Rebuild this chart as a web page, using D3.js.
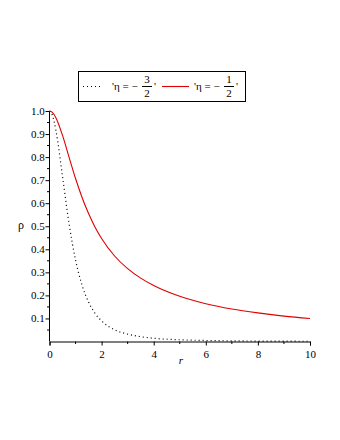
<!DOCTYPE html>
<html>
<head>
<meta charset="utf-8">
<script src="https://cdn.jsdelivr.net/npm/d3@7"></script>
<style>
  body { margin: 0; background: #fff; }
</style>
</head>
<body>
<svg width="340" height="440"></svg>
<script>
// values
var rVals = [0, 0.1, 0.25, 0.5, 0.75, 1, 1.25, 1.5, 1.75, 2, 2.5, 3, 3.5, 4, 5, 6, 7, 8, 9, 10];
var rhoHalf = [1, 0.995, 0.97, 0.894, 0.8, 0.707, 0.625, 0.555, 0.496, 0.447, 0.371, 0.316, 0.275, 0.243, 0.196, 0.164, 0.141, 0.124, 0.110, 0.0995];
var rhoThreeHalf = [1, 0.985, 0.914, 0.716, 0.512, 0.354, 0.244, 0.171, 0.122, 0.089, 0.051, 0.032, 0.021, 0.014, 0.0075, 0.0045, 0.0029, 0.0019, 0.0014, 0.001];
var xTicks = [0, 2, 4, 6, 8, 10];
var xMinor = [1, 3, 5, 7, 9];
var yTicks = [0.1, 0.2, 0.3, 0.4, 0.5, 0.6, 0.7, 0.8, 0.9, 1.0];
var yMinor = [0.05, 0.15, 0.25, 0.35, 0.45, 0.55, 0.65, 0.75, 0.85, 0.95];

var serif = "'Liberation Serif', 'Times New Roman', serif";
var svg = d3.select("svg");
var x = d3.scaleLinear().domain([0, 10]).range([49.5, 310]);
var y = d3.scaleLinear().domain([0, 1]).range([341.5, 111]);

var g = svg.append("g");

// x axis
var xa = g.append("g").attr("transform", "translate(0," + y(0) + ")")
  .call(d3.axisBottom(x).tickValues(xTicks).tickFormat(d3.format("d")).tickSizeOuter(0).tickSize(4));
xa.selectAll("text").style("font-family", serif).style("font-size", "11px").attr("dy", "0.9em");
xa.selectAll("line, path").attr("stroke", "#000");
xa.selectAll(".minor").data(xMinor).enter().append("line")
  .attr("x1", x).attr("x2", x).attr("y1", 0).attr("y2", 2.5).attr("stroke", "#000");

// y axis
var ya = g.append("g").attr("transform", "translate(" + x(0) + ",0)")
  .call(d3.axisLeft(y).tickValues(yTicks).tickFormat(d3.format(".1f")).tickSizeOuter(0).tickSize(4));
ya.selectAll("text").style("font-family", serif).style("font-size", "11px").attr("dx", "0.2em");
ya.selectAll("line, path").attr("stroke", "#000");
ya.select(".domain").attr("d", "M0," + y(0) + "V" + y(1));
ya.selectAll(".minor").data(yMinor).enter().append("line")
  .attr("x1", -2.5).attr("x2", 0).attr("y1", y).attr("y2", y).attr("stroke", "#000");

// axis titles
g.append("text").attr("x", 21).attr("y", 229).style("font-family", serif).style("font-size", "12px")
  .attr("text-anchor", "middle").text("ρ");
g.append("text").attr("x", 181).attr("y", 364).style("font-family", serif).style("font-size", "11px")
  .style("font-style", "italic").attr("text-anchor", "middle").text("r");

// curves
var line = function(vals) {
  return d3.line().x(function(d, i) { return x(rVals[i]); })
    .y(function(d) { return y(d); }).curve(d3.curveMonotoneX)(vals);
};
g.append("path").attr("d", line(rhoThreeHalf)).attr("fill", "none").attr("stroke", "#000")
  .attr("stroke-width", 1.2).attr("stroke-dasharray", "1,3");
g.append("path").attr("d", line(rhoHalf)).attr("fill", "none").attr("stroke", "#e00000")
  .attr("stroke-width", 1.1);

// legend
var lg = svg.append("g");
lg.append("rect").attr("x", 78.5).attr("y", 71.5).attr("width", 167).attr("height", 30)
  .attr("fill", "#fff").attr("stroke", "#000");
lg.append("line").attr("x1", 83).attr("x2", 103).attr("y1", 86.5).attr("y2", 86.5)
  .attr("stroke", "#000").attr("stroke-width", 1.2).attr("stroke-dasharray", "1,3");
lg.append("line").attr("x1", 162).attr("x2", 189).attr("y1", 86.5).attr("y2", 86.5)
  .attr("stroke", "#e00000").attr("stroke-width", 1.1);

function entry(x0, num) {
  lg.append("text").attr("x", x0).attr("y", 90).style("font-family", serif).style("font-size", "11px").text("'η = −");
  lg.append("text").attr("x", x0 + 35).attr("y", 83).style("font-family", serif).style("font-size", "11px")
    .attr("text-anchor", "middle").text(num);
  lg.append("line").attr("x1", x0 + 30).attr("x2", x0 + 40).attr("y1", 86.5).attr("y2", 86.5).attr("stroke", "#000");
  lg.append("text").attr("x", x0 + 35).attr("y", 97).style("font-family", serif).style("font-size", "11px")
    .attr("text-anchor", "middle").text("2");
  lg.append("text").attr("x", x0 + 42).attr("y", 90).style("font-family", serif).style("font-size", "11px").text("'");
}
entry(112, "3");
entry(194, "1");
</script>
</body>
</html>
